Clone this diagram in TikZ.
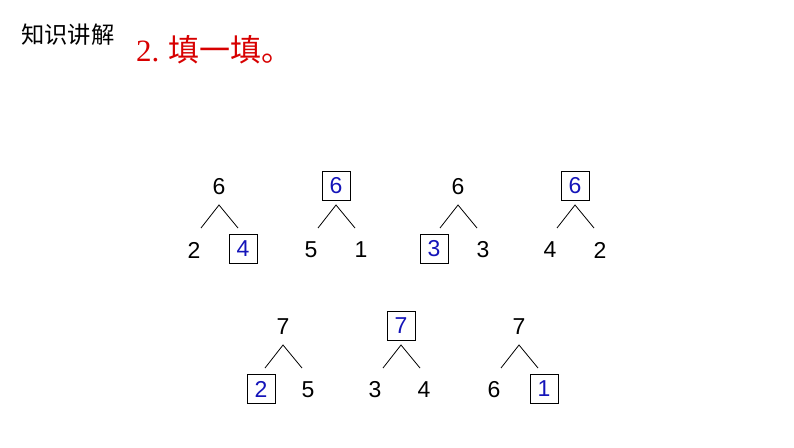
\documentclass[tikz,border=0pt]{standalone}
\usepackage{fontspec}
\setmainfont{Liberation Sans}
\newfontfamily\cjk{Noto Sans CJK SC}
\newfontfamily\serifnum{Liberation Serif}
\usetikzlibrary{positioning}
\definecolor{fillblue}{RGB}{20,20,185}
\definecolor{titlered}{RGB}{215,0,0}
\tikzset{
  num/.style={font=\fontsize{23}{23}\selectfont,inner sep=0pt},
  blank/.style={num,draw,line width=0.7pt,text=fillblue,minimum width=28pt,minimum height=29pt},
  branch/.style={line width=0.8pt}
}

\begin{document}
\begin{tikzpicture}[x=1pt,y=-1pt]
  \useasboundingbox (0,0) rectangle (794,447);
  % headings
  \node[anchor=west,inner sep=0pt,font=\cjk\fontsize{23.3}{23.3}\selectfont] (topic) at (21,35) {知识讲解};
  \node[anchor=west,inner sep=0pt,text=titlered,font=\cjk\fontsize{31}{31}\selectfont] (task) at (136,50) {{\serifnum 2.}\hspace{9pt}填一填。};
  % first row
  \node[num]   (top1) at (219,187) {6};
  \node[num]   (l1)   at (194,250) {2};
  \node[blank] (r1)   at (243,249) {4};
  \node[blank] (top2) at (336,186) {6};
  \node[num]   (l2)   at (311,250) {5};
  \node[num]   (r2)   at (361,250) {1};
  \node[num]   (top3) at (458,187) {6};
  \node[blank] (l3)   at (434,249) {3};
  \node[num]   (r3)   at (483,250) {3};
  \node[blank] (top4) at (575,186) {6};
  \node[num]   (l4)   at (550,250) {4};
  \node[num]   (r4)   at (600,250) {2};
  % second row
  \node[num]   (top5) at (283,327) {7};
  \node[blank] (l5)   at (261,389) {2};
  \node[num]   (r5)   at (308,390) {5};
  \node[blank] (top6) at (401,326) {7};
  \node[num]   (l6)   at (375,390) {3};
  \node[num]   (r6)   at (424,390) {4};
  \node[num]   (top7) at (519,327) {7};
  \node[num]   (l7)   at (494,390) {6};
  \node[blank] (r7)   at (544,389) {1};
  % branches
  \foreach \n/\x/\y in {1/219/205,2/336/205,3/458/205,4/575/205,5/283/345,6/401/345,7/519/345}{
    \coordinate (apex\n) at (\x,\y);
    \coordinate (lend\n) at (\x-18,\y+23);
    \coordinate (rend\n) at (\x+19,\y+23);
    \draw[branch] (lend\n) -- (apex\n) -- (rend\n);
  }
\end{tikzpicture}
\end{document}
